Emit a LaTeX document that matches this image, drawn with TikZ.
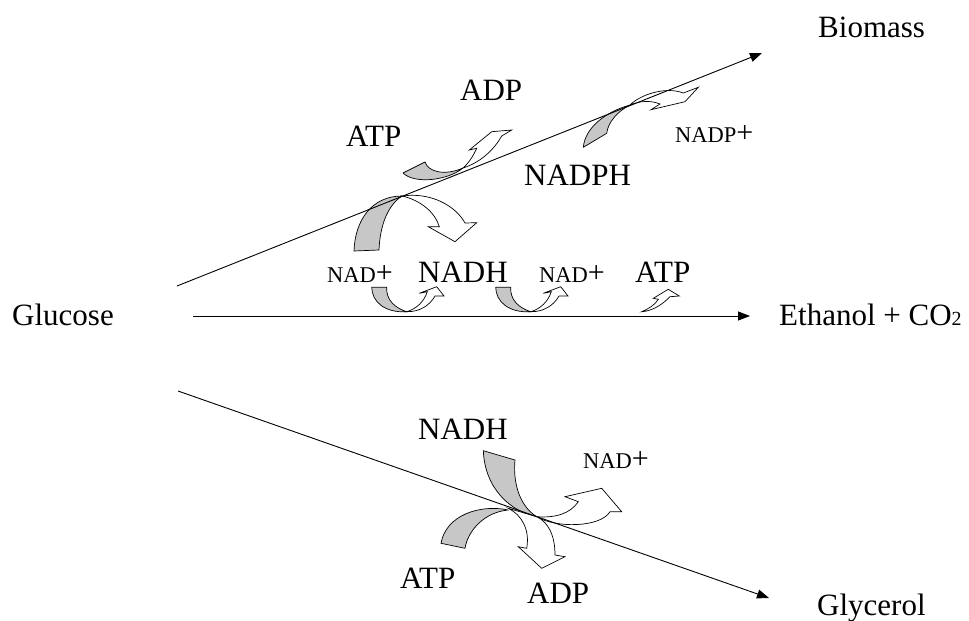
\documentclass[tikz,border=0pt]{standalone}
\usepackage{fontspec}
\setmainfont{Liberation Serif}
\usetikzlibrary{arrows.meta}
\newcommand\smnad[1]{{\fontsize{22.5}{22.5}\selectfont #1}{\fontsize{30}{30}\selectfont +}}
\begin{document}
\begin{tikzpicture}[x=1pt,y=-1pt,
  lbl/.style={anchor=base west,inner sep=0pt,font=\fontsize{31}{31}\selectfont},
  flow/.style={line width=0.9pt,-{Triangle[length=12pt,width=9pt]}},
  graypart/.style={fill=black!22,draw=black,line width=0.7pt,line join=round},
  whitepart/.style={fill=white,draw=black,line width=0.7pt,line join=miter}]
\useasboundingbox[fill=white] (0,0) rectangle (969,621);

% ---------- labels ----------
\node[lbl] (glucose) at (12,325) {Glucose};
\node[lbl] (biomass) at (818,37) {Biomass};
\node[lbl] (ethanol) at (779,325) {Ethanol + CO{\fontsize{20}{20}\selectfont 2}};
\node[lbl] (glycerol) at (817,615) {Glycerol};
\node[lbl] (adp1) at (460,100) {ADP};
\node[lbl] (atp1) at (346,146) {ATP};
\node[lbl] (nadph) at (524,185) {NADPH};
\node[lbl] (nadp) at (675,142) {\smnad{NADP}};
\node[lbl] (nad1) at (327,282) {\smnad{NAD}};
\node[lbl] (nadh1) at (418,282) {NADH};
\node[lbl] (nad2) at (539,282) {\smnad{NAD}};
\node[lbl] (atp2) at (635,282) {ATP};
\node[lbl] (nadh2) at (418,439) {NADH};
\node[lbl] (nad3) at (583,468) {\smnad{NAD}};
\node[lbl] (atp3) at (400,588) {ATP};
\node[lbl] (adp3) at (527,603) {ADP};

% ---------- curved block arrows ----------
% A: ATP -> ADP (biomass)
\draw[graypart] (403,173) -- (425,162) .. controls (428,172) and (445,176) .. (463,168)
  .. controls (447,181) and (414,184) .. (403,173) -- cycle;
\draw[whitepart] (463,168) .. controls (470,162) and (474,154) .. (476.7,148.3)
  -- (469.3,150) -- (491.7,131.7) -- (511.7,130) -- (501.7,136)
  .. controls (495,148) and (482,162) .. (463,168) -- cycle;
% B: big one toward NADH
\draw[graypart] (354,251) -- (379,250) .. controls (380,225) and (388,205) .. (402,196)
  .. controls (372,196) and (355,220) .. (354,251) -- cycle;
\draw[whitepart] (402,196) .. controls (430,192) and (455,205) .. (465,223)
  -- (476.7,222.7) -- (455,241.7) -- (428.3,226.7) -- (439.3,226.7)
  .. controls (435,212) and (420,200) .. (402,196) -- cycle;
% C and D: NAD+ -> NADH, NADH -> NAD+
\foreach \dx in {0,124}{
\begin{scope}[shift={(\dx,0)}]
\draw[graypart] (371.7,287.3) -- (386.7,287.3) .. controls (386,300) and (395,308) .. (406.7,311.7)
  .. controls (385,313) and (372,302) .. (371.7,287.3) -- cycle;
\draw[whitepart] (406.7,311.7) .. controls (420,312) and (430,305) .. (435,296)
  -- (444,296) -- (436.7,286.7) -- (419.3,293.3) -- (427.3,291.7)
  .. controls (424,302) and (416,309) .. (406.7,311.7) -- cycle;
\end{scope}}
% E: ATP small
\draw[whitepart] (641.7,311.7) .. controls (652,311) and (662,305) .. (670,296.7)
  -- (679.3,296) -- (668.3,289.3) -- (653.3,298.3) -- (658.3,299.3)
  .. controls (655,305) and (648,309) .. (641.7,311.7) -- cycle;
% F: NADPH -> NADP+
\draw[graypart] (583.3,147.3) -- (606.7,133.3) .. controls (608,122) and (618,111) .. (630,105)
  .. controls (605,112) and (585,128) .. (583.3,147.3) -- cycle;
\draw[whitepart] (630,105) .. controls (640,95) and (665,86) .. (683.3,93)
  -- (698.3,87.3) -- (685,101.7) -- (651,109.7) -- (660,104)
  .. controls (650,100) and (640,101) .. (630,105) -- cycle;
% G: NADH -> NAD+ (glycerol)
\draw[graypart] (483.3,450.7) -- (515,460) .. controls (513,480) and (518,505) .. (536.7,516.7)
  .. controls (512,512) and (485,490) .. (483.3,450.7) -- cycle;
\draw[whitepart] (536.7,516.7) .. controls (555,528) and (600,528) .. (610,511.7)
  -- (621.7,511.7) -- (601.7,488.3) -- (565,496.7) -- (578.3,501.7)
  .. controls (570,514) and (555,518) .. (536.7,516.7) -- cycle;
% H: ATP -> ADP (glycerol)
\draw[graypart] (441,543.3) -- (465,548.3) .. controls (468,530) and (485,512) .. (508.3,510)
  .. controls (480,504) and (446,515) .. (441,543.3) -- cycle;
\draw[whitepart] (508.3,508.3) .. controls (522,515) and (530,530) .. (526.7,548.3)
  -- (518.3,546.7) -- (541.7,568.3) -- (565,556.7) -- (555,555)
  .. controls (555,535) and (548,522) .. (536.7,516.7) -- cycle;

% ---------- main pathways ----------
\coordinate (b0) at (177,286);
\coordinate (b1) at (762,53);
\coordinate (e0) at (193,316);
\coordinate (e1) at (750,316);
\coordinate (g0) at (178,391);
\coordinate (g1) at (769,598);
\draw[flow] (b0) -- (b1);
\draw[flow] (e0) -- (e1);
\draw[flow] (g0) -- (g1);
\end{tikzpicture}
\end{document}
